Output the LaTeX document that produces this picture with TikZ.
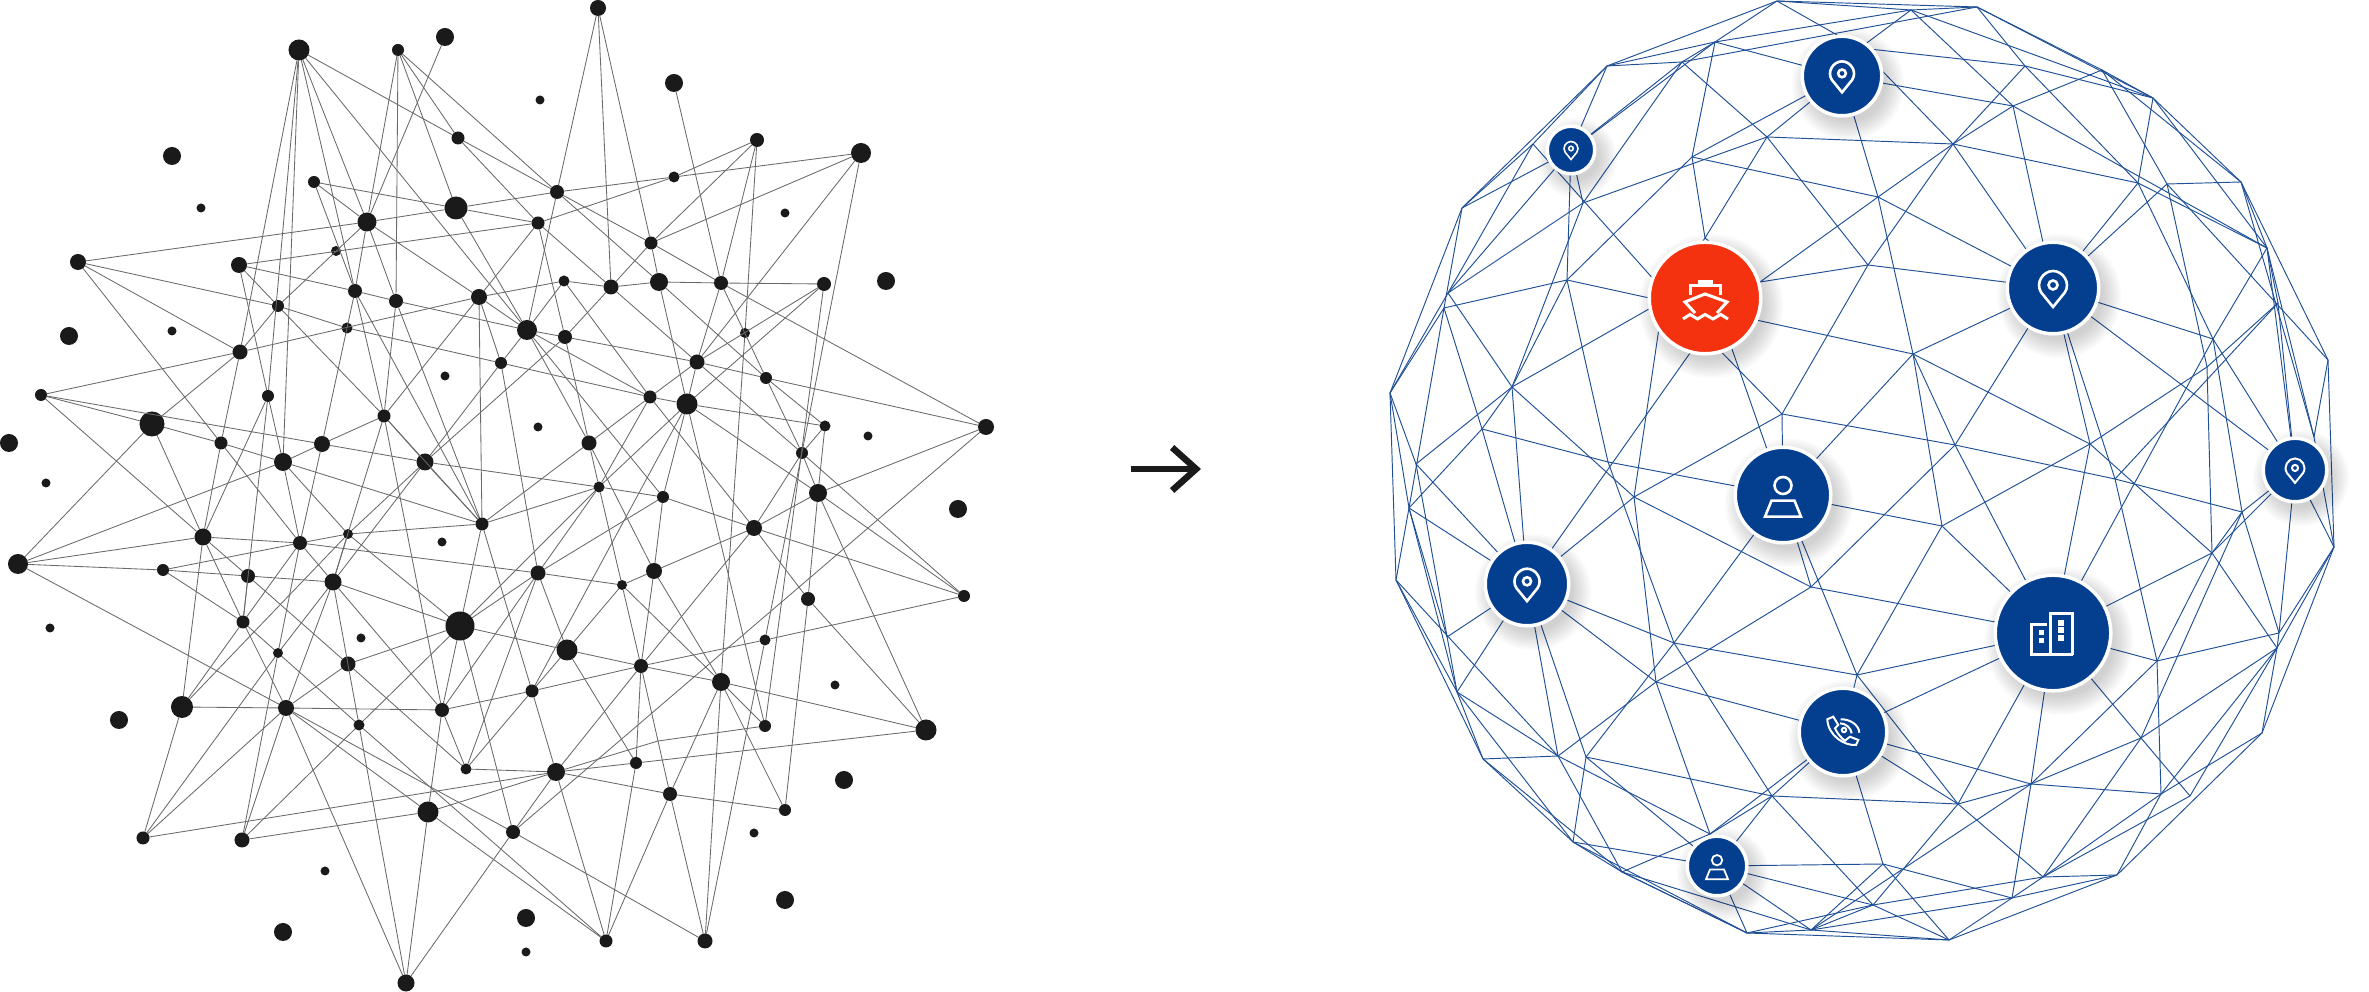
\documentclass[tikz,border=0pt]{standalone}
\usepackage{tikz}
\usetikzlibrary{arrows.meta}
\definecolor{dotblack}{RGB}{26,26,26}
\definecolor{linkgray}{RGB}{105,105,105}
\definecolor{wireblue}{RGB}{32,80,150}
\definecolor{badgeblue}{RGB}{3,62,143}
\definecolor{badgered}{RGB}{245,50,15}
\tikzset{
  dot/.style={circle,fill=dotblack,inner sep=0pt,outer sep=0pt},
  link/.style={draw=linkgray,line width=0.24pt},
  wire/.style={draw=wireblue,line width=0.27pt},
  badge/.style={circle,draw=white,line width=0.35mm,inner sep=0pt,outer sep=0pt},
  icon/.style={draw=white,line width=0.26mm,line join=miter},
  pinicon/.pic={
    \draw (0,19) -- (-11.8,4.5) .. controls (-18,-5) and (-10,-17) .. (0,-17)
      .. controls (10,-17) and (18,-5) .. (11.8,4.5) -- cycle;
    \draw (0,-3) circle (4.5);
  },
  personicon/.pic={
    \draw (0,-9.5) circle (8.5);
    \draw (-11.5,5.7) -- (11.5,5.7) -- (18,21.7) -- (-18,21.7) -- cycle;
  },
  shipicon/.pic={
    \fill[white] (-7,-18) rectangle (8,-12);
    \draw (-15,-3) -- (-15,-12) -- (15,-12) -- (15,-3);
    \draw (-10,15) -- (-20,4) -- (0,-4) -- (22,4) -- (12,15);
    \draw (-22,21) -- (-15,16.5) -- (-7.5,21) -- (0,16.5) -- (8,21) -- (15.7,16.5) -- (23,21);
  },
  phoneicon/.pic={
    \draw (-15.7,-12.7) -- (-9.7,-15.3) -- (-4.7,-7) -- (-8,-3.7)
      .. controls (-6,1) and (-2,6) .. (2,8.7) -- (7,4.7) -- (15.3,8) -- (13,13)
      .. controls (2,14) and (-15,4) .. cycle;
    \draw (-3,-8.7) .. controls (3,-8.5) and (8,-4) .. (8.7,1.3);
    \draw (-2.3,-12.7) .. controls (7,-13) and (16,-7) .. (16.3,0.7);
    \draw (1,-2) circle (2.2);
  },
  buildingicon/.pic={
    \draw (-3,21.7) -- (-3,-19.3) -- (19.7,-19.3) -- (19.7,21.7);
    \draw (-6.5,-8.3) -- (-22,-8.3) -- (-22,21.7) -- (19.7,21.7);
    \fill[white] (-14,-2.5) rectangle (-9,2.5);
    \fill[white] (-14,5) rectangle (-9,10);
    \fill[white] (5,-13) rectangle (11,-7);
    \fill[white] (5,-5.5) rectangle (11,0.5);
    \fill[white] (5,2.5) rectangle (11,8.5);
  },
}

\begin{document}
\begin{tikzpicture}[x=0.01cm,y=-0.01cm]
\useasboundingbox (0,0) rectangle (2369,992);

%% scattered network, dots
\foreach \i/\x/\y/\r in {1/299/50/10.5,2/398/50/6,3/445/37/9,4/598/8/8,5/674/83/9,6/458/138/6.5,7/757/140/7,8/861/153/10,
  9/314/182/6,10/674/177/5.5,11/557/192/7,12/456/208/11.5,13/367/222/9.5,14/538/223/6.5,15/651/243/6.5,16/336/251/5,
  17/78/262/8,18/239/265/8,19/564/281/5.5,20/659/282/9,21/721/283/7,22/824/284/7,23/611/287/7.5,24/355/291/7,
  25/479/297/8,26/396/301/7,27/278/306/6,28/347/328/5.5,29/527/330/10,30/745/333/5,31/565/337/7,32/240/352/7.5,
  33/697/362/7.5,34/501/363/6,35/766/378/6,36/41/395/6,37/268/396/6,38/650/397/6.5,39/687/404/10.5,40/384/416/6.5,
  41/152/424/12.5,42/825/426/5.5,43/986/427/8,44/221/443/6.5,45/322/444/8,46/589/443/7.5,47/802/453/6,48/283/462/9,
  49/425/462/8.5,50/599/487/5.5,51/663/497/6,52/818/493/9,53/482/524/6.5,54/754/528/8,55/348/534/5,56/203/537/8.5,
  57/300/543/7,58/18/564/10,59/163/570/6,60/654/571/8,61/538/573/7.5,62/248/576/7,63/333/582/8.5,64/622/585/5,
  65/964/596/6,66/808/599/7,67/243/622/6.5,68/460/626/14.5,69/765/640/5.5,70/567/650/10.5,71/278/653/5,72/348/664/7.5,
  73/641/666/7,74/721/682/9,75/532/691/6.5,76/182/707/11,77/286/708/8,78/442/710/7,79/359/725/5.5,80/765/726/6,
  81/926/730/10.5,82/636/763/6,83/466/769/5.5,84/556/772/9,85/670/794/7,86/785/810/6,87/428/812/10.5,88/513/832/7,
  89/143/838/6.5,90/242/840/7.5,91/606/941/6.5,92/705/941/7.5,93/406/983/8.5,
  94/172/156/9,95/201/208/4.5,96/69/336/9,97/172/331/4.5,98/445/376/4.5,99/9/443/9,100/46/483/4.5,101/540/100/4.5,
  102/785/213/4.5,103/886/281/9,104/868/436/4.5,105/538/427/4.5,106/442/542/4.5,107/50/628/4.5,108/361/638/4.5,
  109/119/720/9,110/325/871/4.5,111/283/932/9,112/958/509/9,113/835/685/4.5,114/844/780/9,115/754/833/4.5,
  116/785/900/9,117/526/918/9,118/526/952/4.5}{
  \node[dot,minimum size=\r*0.2mm] (d\i) at (\x,\y) {};
}

%% scattered network, links
\foreach \a/\b in {1/6,1/29,1/13,1/24,1/32,1/37,1/48,2/13,2/26,2/12,2/6,2/11,3/13,4/11,4/23,4/15,15/20,5/21,6/11,6/14,
  7/10,7/15,7/21,7/30,30/74,74/92,8/10,8/15,8/33,8/69,10/11,10/14,11/29,11/15,11/20,11/12,12/9,12/13,12/14,12/29,
  13/9,13/27,13/24,13/26,13/25,18/14,18/24,18/27,18/37,9/24,24/26,24/45,24/40,24/53,26/40,26/29,26/53,
  25/19,25/14,25/29,25/53,25/34,25/40,25/32,17/13,17/27,17/32,17/44,27/28,27/40,27/32,28/34,
  29/19,29/31,29/34,29/38,29/51,29/46,31/14,31/46,31/23,31/33,31/49,19/23,19/38,14/23,23/20,23/15,23/33,
  20/21,20/35,20/39,21/22,21/15,21/43,21/33,21/35,22/33,22/39,22/80,33/35,33/38,33/39,33/47,35/43,35/42,35/47,
  42/39,42/47,42/52,43/52,43/88,47/52,47/65,47/54,52/54,52/66,52/65,52/81,52/39,54/51,54/65,54/66,54/73,54/60,54/38,
  39/80,39/50,39/75,39/51,39/38,41/36,41/44,41/32,41/56,41/58,36/32,36/45,36/56,44/48,44/32,44/57,44/56,
  37/48,37/56,37/67,45/49,45/48,45/40,45/57,48/53,48/58,48/57,48/55,49/50,49/40,49/34,49/53,49/63,49/55,
  40/53,40/78,40/63,55/76,55/53,55/57,55/63,55/68,34/38,34/61,38/46,38/50,46/50,46/53,46/60,
  50/53,50/61,50/51,50/64,50/68,51/60,51/61,53/68,53/75,56/58,56/57,56/62,56/67,56/76,57/59,57/63,57/67,57/71,57/61,
  58/59,58/77,59/62,59/67,62/63,62/67,62/72,63/68,63/77,63/71,63/78,63/79,67/71,67/77,67/76,71/79,71/90,71/89,
  72/68,72/77,72/83,77/76,77/78,77/89,77/90,77/93,77/87,77/88,79/68,79/90,79/93,79/91,78/83,78/87,78/68,78/75,78/61,
  83/84,83/61,83/75,87/90,87/93,87/91,87/84,89/76,89/84,68/70,68/61,68/88,61/64,61/70,64/60,64/70,64/74,64/73,
  60/73,60/74,70/73,70/82,70/75,73/75,73/74,73/69,73/84,73/82,73/85,74/81,74/80,74/85,74/86,75/84,69/65,69/92,
  66/86,66/81,81/82,82/84,82/91,84/85,84/88,84/91,85/86,85/91,85/92,88/92,88/93}{
  \draw[link] (d\a) -- (d\b);
}
\coordinate (kink) at (658,741);
\draw[link] (d80) -- (kink) -- (d84);

%% arrow between the two
\coordinate (arrowfrom) at (1131,469);
\coordinate (arrowto) at (1201,469);
\draw[dotblack,line width=0.65mm,-{Straight Barb[length=2.4mm,width=4.3mm,line width=0.65mm]}] (arrowfrom) -- (arrowto);

%% sphere, vertices
\foreach \nm/\x/\y in {o1/1777/1,o2/1977/7,o3/2102/70,o4/2153/98,o5/2241/182,o6/2328/360,o7/2334/547,o8/2262/733,o9/2117/875,
  o10/1949/940,o11/1747/933,o12/1622/872,o13/1573/842,o14/1483/759,o15/1396/580,o16/1390/393,o17/1462/208,o18/1607/66,
  a/1715/42,b/1682/62,c/1533/144,d/1448/293,e/1444/308,f/1692/157,g/1767/137,h/1583/203,i/1567/280,j/1878/197,k/1868/265,
  l/1512/387,m/1482/429,n/1416/464,p/1782/414,q/1608/462,r/1634/497,s/1409/508,t/1911/10,u/2025/66,v/2013/106,w/1953/144,
  x/2138/183,y/2167/184,z/2267/248,aa/2278/303,ab/2213/339,ac/2207/367,ad/1913/354,ae/1955/445,af/2090/444,ag/2115/479,
  ah/2314/437,ai/2242/512,aj/1942/526,ak/2212/553,al/2279/633,am/2277/648,an/2157/661,ao/2141/738,ap/2031/784,aq/1958/804,
  ar/2161/794,as/2190/796,at/1883/864,au/2043/877,av/2012/898,aw/1873/905,ax/1811/930,ba/1811/587,bb/1447/637,bc/1674/643,
  bd/1857/675,be/1656/682,bf/1457/692,bg/1558/756,bh/1586/757,bi/1772/796,bj/1710/834,
  ra/1705/238,rb/1760/282,rc/1663/301,rg/1688/318,re/1719/312,
  c1/1842/76,c1b/1860/48,c2/1571/150,c3/2053/288,c4/2295/470,c5/1783/495,c6/1527/584,c7/1843/732,c8/1717/866,c9/2053/633}{
  \coordinate (\nm) at (\x,\y);
}

%% sphere, wires
\foreach \a/\b in {o1/o2,o2/o3,o3/o4,o4/o5,o5/o6,o6/o7,o7/o8,o8/o9,o9/o10,o10/o11,o11/o12,o12/o13,o13/o14,o14/o15,o15/o16,o16/o17,o17/o18,o18/o1,
  o1/t,t/o2,o1/a,a/b,a/o18,b/o18,a/t,b/o2,a/c1,a/f,b/g,b/h,b/c2,a/c2,o18/c2,o18/c,c/o17,o1/c1b,t/c1b,w/c1b,f/c1,g/c1,j/c1,v/c1,
  t/v,t/o4,o2/u,u/x,o2/o4,c1b/u,u/o4,u/w,o3/v,v/w,v/z,v/c3,w/g,w/x,w/c3,w/j,w/k,j/c3,j/ad,j/f,j/rb,k/rb,k/c3,k/p,k/g,
  o4/x,o3/y,o4/z,o3/o5,y/o5,o5/z,o5/ah,x/ab,y/ac,y/o6,x/z,x/c3,y/c3,z/ab,z/ah,z/c4,z/aa,aa/c4,aa/ag,ab/c3,ab/ai,ab/c4,ab/c9,
  ac/ak,ac/af,ac/aa,c3/c4,ad/c3,ad/af,ad/ae,ad/aj,ad/c5,ad/re,ae/c3,ae/p,ae/ag,ae/ba,ae/c9,af/c3,af/c9,af/aj,af/ak,c3/ag,ag/an,ag/ai,
  ai/c4,ai/ak,ai/al,ai/ao,ak/am,ak/an,ak/c9,ak/c4,an/c9,an/al,an/ap,an/ar,al/c4,al/am,al/o7,am/o7,am/as,am/ar,am/ao,am/o8,
  ao/c9,ao/as,ao/ap,ao/au,ar/ap,ar/o9,ar/au,ar/o8,as/au,au/o9,au/av,au/aq,au/aw,av/o9,av/o10,av/ap,av/at,av/ax,ap/c9,ap/aq,ap/ax,
  c7/at,at/o10,at/ax,aw/o10,ax/o10,ax/aw,ax/o12,ax/c8,aq/c9,aq/bi,aq/bd,aq/aw,aq/c7,c9/c7,c7/ap,c9/ba,c9/bd,aj/c9,aj/bd,aj/c5,
  o16/s,o16/n,o16/d,o16/e,o17/e,o17/c2,c/d,c/rg,c2/d,d/h,d/l,e/i,e/s,e/m,h/g,h/l,l/i,l/rc,i/rc,i/f,i/q,i/c2,l/m,l/n,l/c6,l/r,
  m/c6,m/q,m/s,n/c6,n/bf,s/o15,s/bf,s/c6,s/bb,bb/c6,o15/bg,bf/c6,bf/bg,bf/o14,bf/o13,bf/o15,o14/bg,o14/o12,bg/c6,bh/c6,bg/o12,
  bg/be,bg/bj,be/ba,bh/bc,bh/bi,bh/o13,bh/c8,c6/bc,bc/bd,c6/be,c6/r,be/c7,be/r,be/bj,bc/bi,bc/c5,bc/q,r/ba,r/p,r/rc,ba/c5,c5/bd,c5/p,
  q/c5,re/c5,re/c6,bd/c7,bi/c7,bj/c7,bj/bi,bj/o12,bi/aw,c8/aw,c8/o11,c8/o13,c8/at,c8/bi,o13/o11,o12/o11,o11/ax,o11/aw,c4/o7,ah/o7,o6/ah,
  ra/f,ra/g,rb/ra,rc/ra,rg/p,c2/h,re/rb}{
  \draw[wire] (\a) -- (\b);
}

%% sphere, badges with a soft shadow
\foreach \nm/\x/\y/\r/\col in {shipbadge/1705/298/54/badgered,pinbadgeA/1842/76/38/badgeblue,pinbadgeB/1571/150/22/badgeblue,
  pinbadgeC/2053/288/44/badgeblue,pinbadgeD/2295/470/30/badgeblue,personbadgeA/1783/495/46/badgeblue,pinbadgeE/1527/584/40/badgeblue,
  phonebadge/1843/732/42/badgeblue,personbadgeB/1717/866/28/badgeblue,buildingbadge/2053/633/56/badgeblue}{
  \foreach \k in {0,...,9}{
    \fill[black,opacity=0.02] (\x+6,\y+8) circle (\r+\k*2);
  }
  \node[badge,fill=\col,minimum size=\r*0.2mm+0.35mm] (\nm) at (\x,\y) {};
}

%% badge icons
\pic[icon,scale=0.86] at (pinbadgeA) {pinicon};
\pic[icon,scale=0.5,line width=0.16mm] at (pinbadgeB) {pinicon};
\pic[icon] at (pinbadgeC) {pinicon};
\pic[icon,scale=0.68,line width=0.2mm] at (pinbadgeD) {pinicon};
\pic[icon,scale=0.9] at (pinbadgeE) {pinicon};
\pic[icon] at (personbadgeA) {personicon};
\pic[icon,scale=0.61,line width=0.18mm] at (personbadgeB) {personicon};
\pic[icon,line width=0.3mm] at (shipbadge) {shipicon};
\pic[icon,line width=0.2mm] at (phonebadge) {phoneicon};
\pic[icon,line width=0.3mm] at (buildingbadge) {buildingicon};

\end{tikzpicture}
\end{document}
